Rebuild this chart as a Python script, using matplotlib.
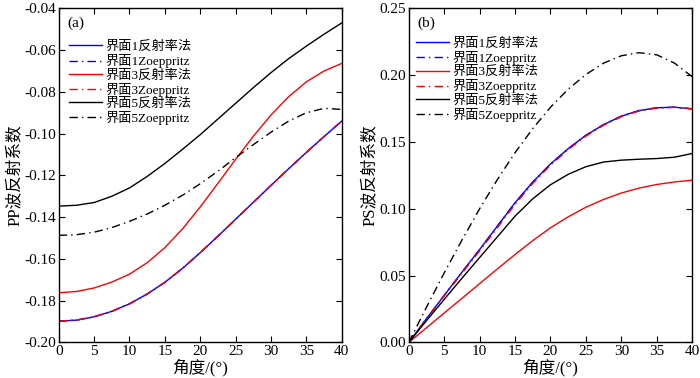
import numpy as np
import matplotlib
matplotlib.use('Agg')
import matplotlib.pyplot as plt

plt.rcParams['font.family'] = ['Liberation Serif', 'Noto Sans CJK SC']
plt.rcParams['axes.unicode_minus'] = False

angle = [0, 2.5, 5, 7.5, 10, 12.5, 15, 17.5, 20, 22.5, 25, 27.5, 30, 32.5, 35, 37.5, 40]

# (a) PP
pp_r1 = [-0.1898, -0.1893, -0.1877, -0.1851, -0.1815, -0.1768, -0.1712, -0.1645, -0.1570,
         -0.1491, -0.1410, -0.1329, -0.1248, -0.1168, -0.1090, -0.1014, -0.0940]
pp_z1 = [-0.1898, -0.1893, -0.1877, -0.1851, -0.1815, -0.1768, -0.1712, -0.1645, -0.1570,
         -0.1491, -0.1410, -0.1329, -0.1248, -0.1168, -0.1090, -0.1014, -0.0940]
pp_r3 = [-0.1762, -0.1756, -0.1739, -0.1711, -0.1673, -0.1618, -0.1546, -0.1456, -0.1351,
         -0.1238, -0.1123, -0.1013, -0.0911, -0.0823, -0.0752, -0.0700, -0.0664]
pp_z3 = [-0.1898, -0.1893, -0.1877, -0.1851, -0.1815, -0.1768, -0.1712, -0.1645, -0.1570,
         -0.1491, -0.1410, -0.1329, -0.1248, -0.1168, -0.1090, -0.1014, -0.0940]
pp_r5 = [-0.1347, -0.1343, -0.1330, -0.1300, -0.1260, -0.1205, -0.1143, -0.1075, -0.1005,
         -0.0930, -0.0855, -0.0780, -0.0708, -0.0641, -0.0581, -0.0524, -0.0470]
pp_z5 = [-0.1487, -0.1484, -0.1472, -0.1450, -0.1420, -0.1385, -0.1343, -0.1295, -0.1240,
         -0.1180, -0.1115, -0.1053, -0.0993, -0.0940, -0.0900, -0.0879, -0.0884]

# (b) PS
ps_r1 = [0, 0.0178, 0.0352, 0.0525, 0.0695, 0.0870, 0.1045, 0.1200, 0.1335,
         0.1450, 0.1550, 0.1630, 0.1693, 0.1735, 0.1756, 0.1760, 0.1748]
ps_z1 = [0, 0.0178, 0.0352, 0.0525, 0.0695, 0.0870, 0.1045, 0.1200, 0.1335,
         0.1450, 0.1550, 0.1630, 0.1693, 0.1735, 0.1756, 0.1760, 0.1748]
ps_r3 = [0, 0.0110, 0.0220, 0.0330, 0.0440, 0.0550, 0.0658, 0.0762, 0.0858,
         0.0940, 0.1012, 0.1070, 0.1118, 0.1155, 0.1182, 0.1201, 0.1214]
ps_z3 = [0, 0.0176, 0.0347, 0.0517, 0.0685, 0.0858, 0.1033, 0.1190, 0.1326,
         0.1443, 0.1544, 0.1625, 0.1689, 0.1732, 0.1754, 0.1759, 0.1748]
ps_r5 = [0, 0.0163, 0.0322, 0.0480, 0.0635, 0.0790, 0.0945, 0.1075, 0.1180,
         0.1258, 0.1315, 0.1350, 0.1364, 0.1371, 0.1376, 0.1386, 0.1414]
ps_z5 = [0, 0.0263, 0.0520, 0.0765, 0.1000, 0.1218, 0.1420, 0.1600, 0.1760,
         0.1895, 0.2005, 0.2090, 0.2145, 0.2168, 0.2152, 0.2090, 0.1988]

labels = ['界面1反射率法', '界面1Zoeppritz', '界面3反射率法',
          '界面3Zoeppritz', '界面5反射率法', '界面5Zoeppritz']

dashdot = (0, (6, 3, 1, 3))
styles = [('#0000ff', '-'), ('#0000ff', dashdot), ('#ff0000', '-'),
          ('#ff0000', dashdot), ('black', '-'), ('black', dashdot)]


def draw(ax, series, ylim, yticks, ylabel, tag, leg_anchor):
    for ys, (c, ls), lab in zip(series, styles, labels):
        ax.plot(angle, ys, color=c, linestyle=ls, lw=1.0, label=lab)
    ax.set_xlim(0, 40)
    ax.set_ylim(*ylim)
    ax.set_xticks(range(0, 41, 5))
    ax.set_yticks(yticks)
    ax.set_yticklabels([f'{t:.2f}' for t in yticks])
    ax.tick_params(direction='in', top=True, right=True, length=4, width=0.8,
                   labelsize=11, pad=2)
    for s in ax.spines.values():
        s.set_linewidth(1.0)
    ax.set_xlabel('角度/(°)', fontsize=12, labelpad=0)
    ax.set_ylabel(ylabel, fontsize=12, labelpad=1)
    ax.text(0.03, 0.955, tag, transform=ax.transAxes, fontsize=11, va='center')
    ax.legend(loc='upper left', bbox_to_anchor=leg_anchor, frameon=False,
              fontsize=9.5, handlelength=2.5, handletextpad=0.3,
              labelspacing=0.08, borderaxespad=0, borderpad=0)


fig = plt.figure(figsize=(7, 3.78), dpi=100)
ax1 = fig.add_axes([0.0839, 0.094, 0.4043, 0.884])
ax2 = fig.add_axes([0.5839, 0.094, 0.4050, 0.884])

draw(ax1, [pp_r1, pp_z1, pp_r3, pp_z3, pp_r5, pp_z5], (-0.20, -0.04),
     np.round(np.arange(-0.20, -0.039, 0.02), 2), 'PP波反射系数', '(a)', (0.035, 0.903))
draw(ax2, [ps_r1, ps_z1, ps_r3, ps_z3, ps_r5, ps_z5], (0, 0.25),
     np.round(np.arange(0, 0.251, 0.05), 2), 'PS波反射系数', '(b)', (0.025, 0.913))

fig.savefig('out.png', dpi=100)
